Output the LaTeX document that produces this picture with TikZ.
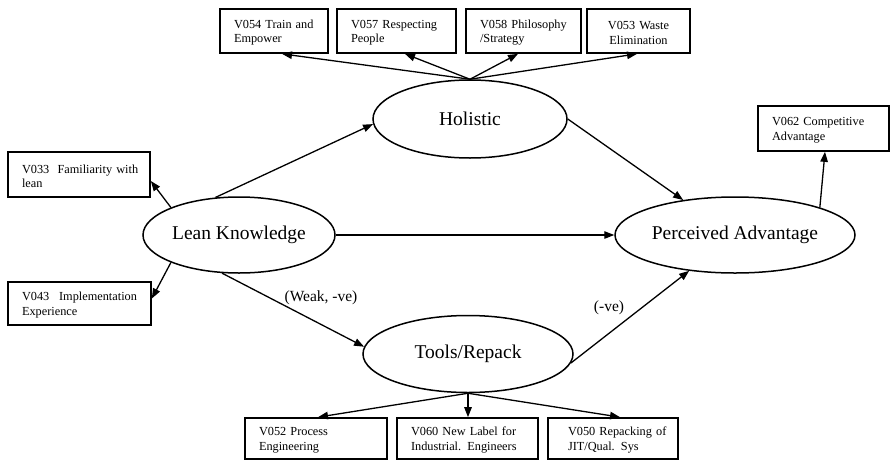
\documentclass[tikz,border=0pt]{standalone}
\usepackage{fontspec}
\setmainfont{Liberation Serif}
\usetikzlibrary{arrows.meta,shapes.geometric,calc}

% invisible strut that lowers the first line of a box label a little
\newcommand\firstlinestrut{\rule{0pt}{12pt}}

\tikzset{
  construct/.style={ellipse, draw, line width=1.5pt, inner sep=0pt,
    font=\fontsize{19.5}{22}\selectfont},
  varbox/.style={rectangle, draw, line width=1.7pt, inner xsep=14pt, inner ysep=0pt,
    align=left, font=\fontsize{12.3}{14.5}\selectfont},
  link/.style={line width=1.3pt, -{Triangle[length=10pt,width=7.5pt]}},
  pathlabel/.style={font=\fontsize{15.5}{18}\selectfont, inner sep=0pt}
}

\begin{document}
\begin{tikzpicture}[x=1pt,y=-1pt]
\useasboundingbox (0,0) rectangle (891,461);

% latent constructs
\node[construct, minimum width=192pt, minimum height=76pt] (lean) at (239,235) {Lean Knowledge};
\node[construct, minimum width=194pt, minimum height=78pt] (hol)  at (470,119) {Holistic};
\node[construct, minimum width=240pt, minimum height=76pt] (pa)   at (735,235) {Perceived Advantage};
\node[construct, minimum width=210pt, minimum height=77pt] (tools) at (468,354) {Tools/Repack};

% indicators of Holistic
\node[varbox, text width=80pt, minimum height=44pt] (v054) at (274,31) {\mbox{\firstlinestrut V054 Train and}\\Empower};
\node[varbox, text width=91pt, minimum height=44pt] (v057) at (396.5,31) {\mbox{\firstlinestrut V057 Respecting}\\People};
\node[varbox, text width=87pt, minimum height=44pt] (v058) at (523.5,31) {\mbox{\firstlinestrut V058 Philosophy}\\/Strategy};
\node[varbox, text width=75pt, minimum height=44pt, align=center] (v053) at (638.5,31) {\firstlinestrut V053 Waste\\Elimination};

% indicators of Lean Knowledge
\node[varbox, text width=114pt, minimum height=45pt] (v033) at (79,174.5) {\mbox{\firstlinestrut V033~~Familiarity with}\\lean};
\node[varbox, text width=115pt, minimum height=43pt] (v043) at (79.5,303.5) {\makebox[115pt][l]{\firstlinestrut V043\hfill Implementation}\\Experience};

% indicator of Perceived Advantage
\node[varbox, text width=103pt, minimum height=45pt] (v062) at (823.5,128.5) {\mbox{\firstlinestrut V062 Competitive}\\Advantage};

% indicators of Tools/Repack
\node[varbox, text width=114pt, minimum height=41pt] (v052) at (316,438.5) {\mbox{\firstlinestrut V052 Process}\\Engineering};
\node[varbox, text width=113pt, minimum height=41pt] (v060) at (467.5,438.5) {\mbox{\firstlinestrut V060 New Label for}\\\mbox{Industrial. Engineers}};
\node[varbox, inner xsep=20pt, text width=90pt, minimum height=41pt] (v050) at (613,438.5) {\mbox{\firstlinestrut V050 Repacking of}\\\mbox{JIT/Qual. Sys}};

% structural paths
\draw[link] (lean.122) -- (hol.183);
\draw[link] (lean.east) -- (pa.west);
\draw[link] (lean.246) -- (tools.176);
\draw[link] (hol.0) -- (pa.146);
\draw[link] (tools.355) -- (pa.218);

% measurement paths
\draw[link] (hol.north) -- ([xshift=8pt]v054.south);
\draw[link] (hol.north) -- ([xshift=8.5pt]v057.south);
\draw[link] (hol.north) -- ([xshift=-5.5pt]v058.south);
\draw[link] (hol.north) -- ([xshift=-1.5pt]v053.south);
\draw[link] (lean.158) -- ([yshift=-6.5pt]v033.east);
\draw[link] (lean.202) -- ([yshift=5pt]v043.east);
\draw[link] (pa.18) -- ([xshift=1.5pt]v062.south);
\draw[link] (tools.south) -- ([xshift=2pt]v052.north);
\draw[link] (tools.south) -- ([xshift=0.5pt]v060.north);
\draw[link] (tools.south) -- ([xshift=7pt]v050.north);

% path labels
\node[pathlabel] (weak) at (321,298) {(Weak, -ve)};
\node[pathlabel] (neg) at (609,308) {(-ve)};
\end{tikzpicture}
\end{document}
